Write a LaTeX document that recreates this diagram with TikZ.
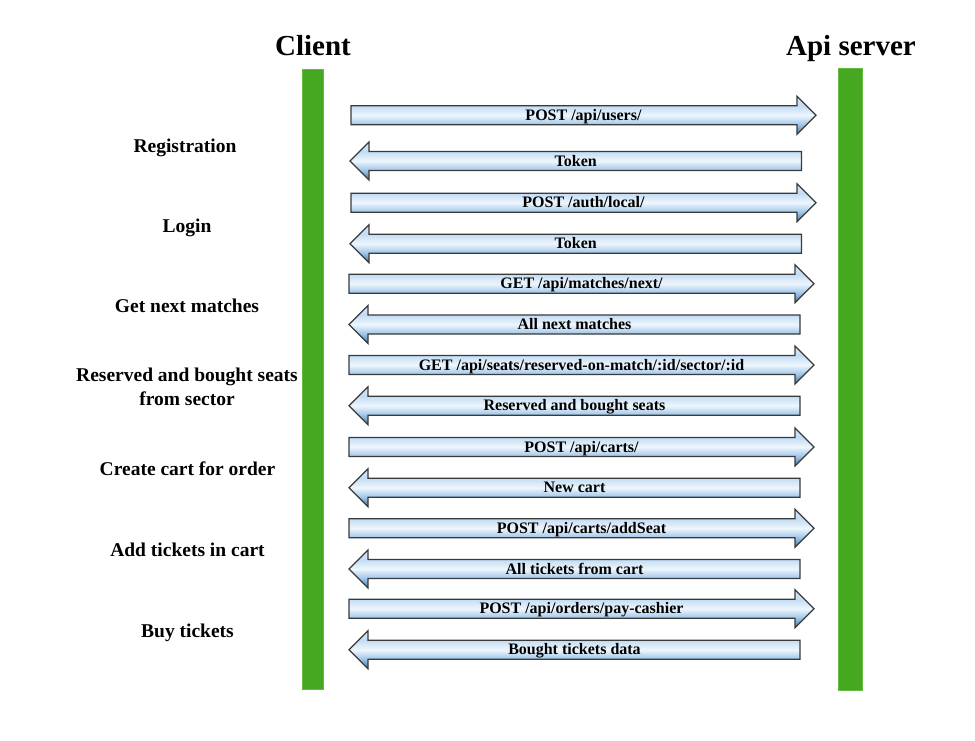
\documentclass[tikz,border=0pt]{standalone}
\usepackage{fontspec}
\setmainfont{Liberation Serif}
\definecolor{ashA}{HTML}{44749C}
\definecolor{ashB}{HTML}{9CC4E8}
\definecolor{ashC}{HTML}{EEF6FD}
\definecolor{ashD}{HTML}{C2DCF4}
\definecolor{ashE}{HTML}{D8E8F8}
\definecolor{barfill}{HTML}{46A820}
\definecolor{barline}{HTML}{62BA40}
\definecolor{arrline}{HTML}{3A3A3A}
\pgfdeclareverticalshading{arrowshade}{100bp}{color(0bp)=(ashA); color(25bp)=(ashA); color(37.5bp)=(ashB); color(50bp)=(ashC); color(62.5bp)=(ashD); color(75bp)=(ashE); color(100bp)=(ashE)}
\newcommand\RArrow[5]{%
  \path[arrowbox] (#3,#2-9.5) -- (#4-19,#2-9.5) -- (#4-19,#2-19) -- (#4,#2) -- (#4-19,#2+19) -- (#4-19,#2+9.5) -- (#3,#2+9.5) -- cycle;
  \node[arrowlabel] (#1) at ({(#3+#4)/2},#2+5) {#5};}
\newcommand\LArrow[5]{%
  \path[arrowbox] (#4,#2-9.5) -- (#3+19,#2-9.5) -- (#3+19,#2-19) -- (#3,#2) -- (#3+19,#2+19) -- (#3+19,#2+9.5) -- (#4,#2+9.5) -- cycle;
  \node[arrowlabel] (#1) at ({(#3+#4)/2},#2+5) {#5};}
\begin{document}
\begin{tikzpicture}[x=1pt,y=-1pt,
  arrowbox/.style={draw=arrline, line width=1.2pt, shading=arrowshade},
  arrowlabel/.style={anchor=base, inner sep=0pt, font=\fontsize{16}{18}\selectfont\bfseries},
  title/.style={anchor=base, inner sep=0pt, font=\fontsize{29}{32}\selectfont\bfseries},
  steplabel/.style={anchor=base, inner sep=0pt, align=center, font=\fontsize{19.5}{23.3}\selectfont\bfseries},
  bar/.style={fill=barfill, draw=barline, line width=0.8pt}]
\useasboundingbox (0,0) rectangle (975,740);
% titles
\node[title] (client) at (313,55) {Client};
\node[title] (server) at (851,55) {Api server};
% lifelines
\path[bar] (302,69) rectangle (323,689.5);
\path[bar] (838,68.5) rectangle (862,690.5);
% arrows
\RArrow{a1}{115.3}{351}{816}{POST /api/users/}
\LArrow{a2}{161}{350}{801.5}{Token}
\RArrow{a3}{202.8}{351}{816}{POST /auth/local/}
\LArrow{a4}{243.7}{350}{801.5}{Token}
\RArrow{a5}{283.7}{349}{814}{GET /api/matches/next/}
\LArrow{a6}{324.5}{349}{800}{All next matches}
\RArrow{a7}{365}{349}{814}{GET /api/seats/reserved-on-match/:id/sector/:id}
\LArrow{a8}{405.7}{349}{800}{Reserved and bought seats}
\RArrow{a9}{447}{349}{814}{POST /api/carts/}
\LArrow{a10}{487.8}{349}{800}{New cart}
\RArrow{a11}{528.3}{349}{814}{POST /api/carts/addSeat}
\LArrow{a12}{569}{349}{800}{All tickets from cart}
\RArrow{a13}{608.7}{349}{814}{POST /api/orders/pay-cashier}
\LArrow{a14}{649.7}{349}{800}{Bought tickets data}
% step labels
\node[steplabel] (s1) at (185,152.7) {Registration};
\node[steplabel] (s2) at (187,232.7) {Login};
\node[steplabel] (s3) at (187,312.7) {Get next matches};
\node[steplabel] (s4a) at (187,381.7) {Reserved and bought seats};
\node[steplabel] (s4b) at (187,405) {from sector};
\node[steplabel] (s5) at (187.5,475.5) {Create cart for order};
\node[steplabel] (s6) at (187.5,556.5) {Add tickets in cart};
\node[steplabel] (s7) at (187.5,637.5) {Buy tickets};
\end{tikzpicture}
\end{document}
